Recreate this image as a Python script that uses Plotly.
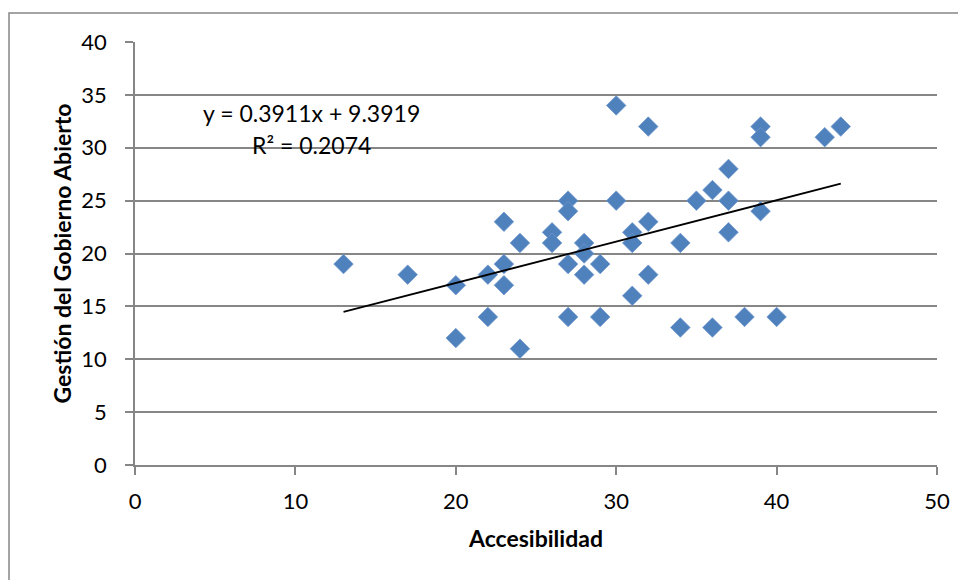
import plotly.graph_objects as go

accesibilidad = [13, 17, 20, 20, 22, 22, 23, 23, 23, 24, 24, 26, 26, 27, 27, 27, 27,
                 28, 28, 28, 29, 29, 30, 30, 31, 31, 31, 32, 32, 32, 34, 34, 35, 36,
                 36, 37, 37, 37, 38, 39, 39, 39, 40, 43, 44]
gestion = [19, 18, 17, 12, 18, 14, 23, 19, 17, 21, 11, 22, 21, 25, 24, 19, 14,
           21, 20, 18, 19, 14, 34, 25, 22, 21, 16, 32, 23, 18, 21, 13, 25, 26,
           13, 28, 25, 22, 14, 32, 31, 24, 14, 31, 32]

slope = 0.3911
intercept = 9.3919
r2 = 0.2074

x_ticks = [0, 10, 20, 30, 40, 50]
y_ticks = [0, 5, 10, 15, 20, 25, 30, 35, 40]

FONT = "Lato"
GRID = "#868686"

x_line = [min(accesibilidad), max(accesibilidad)]
y_line = [slope * v + intercept for v in x_line]

fig = go.Figure()
fig.add_trace(go.Scatter(
    x=accesibilidad, y=gestion, mode="markers",
    marker=dict(symbol="diamond", size=15, color="#4F81BD",
                line=dict(width=0.8, color="#6E97CB")),
    showlegend=False, hoverinfo="x+y"))
fig.add_trace(go.Scatter(
    x=x_line, y=y_line, mode="lines",
    line=dict(color="black", width=1.8), showlegend=False))

fig.add_annotation(x=0.22, y=0.832, xref="paper", yref="paper",
                   xanchor="center", yanchor="middle",
                   text=f"y = {slope}x + {intercept}", showarrow=False,
                   font=dict(family=FONT, size=23, color="black"))
fig.add_annotation(x=0.22, y=0.757, xref="paper", yref="paper",
                   xanchor="center", yanchor="middle",
                   text=f"R² = {r2}", showarrow=False,
                   font=dict(family=FONT, size=23, color="black"))

# outer chart border
fig.add_shape(type="rect", xref="paper", yref="paper",
              x0=-0.1571, x1=1.06, y0=-0.32, y1=1.0686,
              line=dict(color=GRID, width=1.5), fillcolor="rgba(0,0,0,0)",
              layer="below")

fig.update_layout(
    width=958, height=572,
    margin=dict(l=127, r=29, t=34, b=115),
    paper_bgcolor="white", plot_bgcolor="white",
    font=dict(family=FONT, size=22, color="black"),
    xaxis=dict(range=[0, 50], tickvals=x_ticks, showgrid=False,
               showline=True, linecolor=GRID, linewidth=1.5,
               ticks="outside", ticklen=8, tickcolor=GRID, tickwidth=1.5,
               ticklabelstandoff=8, zeroline=False,
               title=dict(text="<b>Accesibilidad</b>", standoff=18,
                          font=dict(size=23))),
    yaxis=dict(range=[0, 40], tickvals=y_ticks, showgrid=True,
               gridcolor=GRID, gridwidth=1.5,
               showline=True, linecolor=GRID, linewidth=1.5,
               ticks="outside", ticklen=8, tickcolor=GRID, tickwidth=1.5,
               ticklabelstandoff=14, zeroline=False,
               title=dict(text="<b>Gestión del Gobierno Abierto</b>", standoff=3,
                          font=dict(size=23))),
)

fig.write_html("out.html")
